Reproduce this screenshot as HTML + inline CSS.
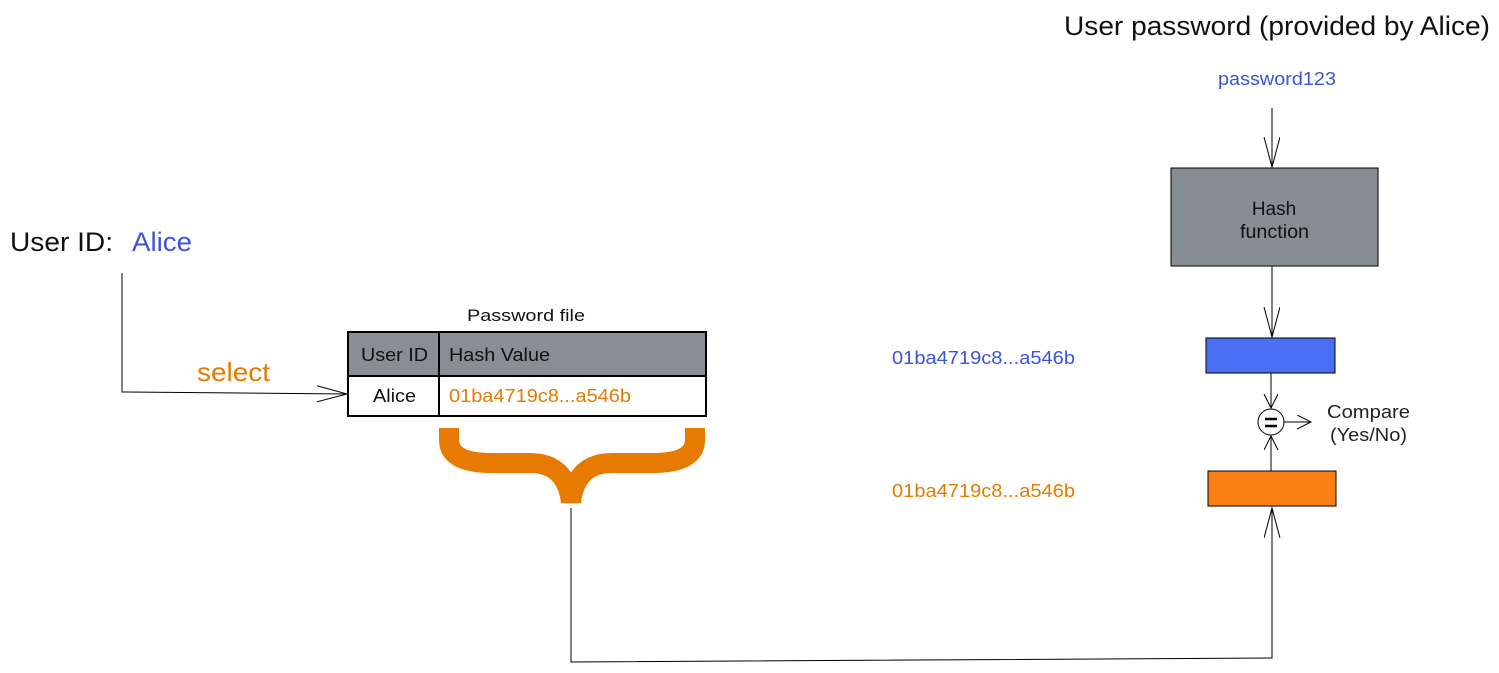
<!DOCTYPE html>
<html><head><style>body{margin:0;background:#fff}svg{display:block}text{font-family:"Liberation Sans",Arial,sans-serif}</style></head><body>
<svg width="1499" height="673" xmlns="http://www.w3.org/2000/svg">
<defs><marker id="a" markerWidth="32" markerHeight="18" refX="30" refY="8" orient="auto" markerUnits="userSpaceOnUse"><path d="M0,0 L30,8 L0,16" fill="none" stroke="#000" stroke-width="1"/></marker>
<marker id="b" markerWidth="16" markerHeight="16" refX="14" refY="7" orient="auto" markerUnits="userSpaceOnUse"><path d="M0,0 L14,7 L0,14" fill="none" stroke="#000" stroke-width="1"/></marker></defs>
<text x="1064" y="35" font-size="27" fill="#111" textLength="426" lengthAdjust="spacingAndGlyphs">User password (provided by Alice)</text>
<text x="1218" y="85" font-size="18" fill="#3b55d6" textLength="118" lengthAdjust="spacingAndGlyphs">password123</text>
<line x1="1272" y1="108" x2="1272" y2="167" stroke="#000" marker-end="url(#a)"/>
<rect x="1171" y="168" width="207" height="98" fill="#868d94" stroke="#000"/>
<text x="1274" y="215" font-size="19" text-anchor="middle" fill="#111">Hash</text>
<text x="1240" y="238" font-size="19" fill="#111" textLength="69" lengthAdjust="spacingAndGlyphs">function</text>
<line x1="1272" y1="266" x2="1272" y2="337" stroke="#000" marker-end="url(#a)"/>
<rect x="1206" y="338" width="129" height="35" fill="#4a6ff5" stroke="#000"/>
<line x1="1271" y1="373" x2="1271" y2="408" stroke="#000" marker-end="url(#b)"/>
<circle cx="1271" cy="422" r="13" fill="#fff" stroke="#000"/>
<line x1="1265" y1="419" x2="1277" y2="419" stroke="#000" stroke-width="2.5"/>
<line x1="1265" y1="426" x2="1277" y2="426" stroke="#000" stroke-width="2.5"/>
<line x1="1284" y1="422" x2="1311" y2="422" stroke="#000" marker-end="url(#b)"/>
<text x="1327" y="418" font-size="18" fill="#222" textLength="83" lengthAdjust="spacingAndGlyphs">Compare</text>
<text x="1330" y="441" font-size="18" fill="#222" textLength="77" lengthAdjust="spacingAndGlyphs">(Yes/No)</text>
<rect x="1208" y="471" width="128" height="35" fill="#fb8013" stroke="#000"/>
<line x1="1271" y1="471" x2="1271" y2="436" stroke="#000" marker-end="url(#b)"/>
<polyline points="571,508 571,662 1272,658 1272,508" fill="none" stroke="#000" marker-end="url(#a)"/>
<text x="892" y="364" font-size="18" fill="#3b55d6" textLength="183" lengthAdjust="spacingAndGlyphs">01ba4719c8...a546b</text>
<text x="892" y="497" font-size="18" fill="#e77a00" textLength="183" lengthAdjust="spacingAndGlyphs">01ba4719c8...a546b</text>
<text x="467" y="321" font-size="17" fill="#111" textLength="118" lengthAdjust="spacingAndGlyphs">Password file</text>
<rect x="348" y="332" width="358" height="44" fill="#878e95"/>
<rect x="348" y="332" width="358" height="84" fill="none" stroke="#000" stroke-width="2"/>
<line x1="348" y1="376" x2="706" y2="376" stroke="#000" stroke-width="2"/>
<line x1="439" y1="332" x2="439" y2="416" stroke="#000" stroke-width="2"/>
<text x="361" y="361" font-size="18" fill="#111" textLength="67" lengthAdjust="spacingAndGlyphs">User ID</text>
<text x="449" y="361" font-size="18" fill="#111" textLength="101" lengthAdjust="spacingAndGlyphs">Hash Value</text>
<text x="373" y="402" font-size="18" fill="#111" textLength="43" lengthAdjust="spacingAndGlyphs">Alice</text>
<text x="449" y="402" font-size="18" fill="#e77a00" textLength="182" lengthAdjust="spacingAndGlyphs">01ba4719c8...a546b</text>
<path d="M449,428 V440 Q449,463 492,463 H530 Q566,463 571,502 Q576,463 612,463 H652 Q695,463 695,440 V428" fill="none" stroke="#e77a00" stroke-width="20"/>
<text x="10" y="251" font-size="27" fill="#111" textLength="103" lengthAdjust="spacingAndGlyphs">User ID:</text>
<text x="132" y="251" font-size="27" fill="#3b55d6" textLength="60" lengthAdjust="spacingAndGlyphs">Alice</text>
<polyline points="122,273 122,392 347,394" fill="none" stroke="#000" marker-end="url(#a)"/>
<text x="197" y="381" font-size="26" fill="#e77a00" textLength="73" lengthAdjust="spacingAndGlyphs">select</text>
</svg>
</body></html>
